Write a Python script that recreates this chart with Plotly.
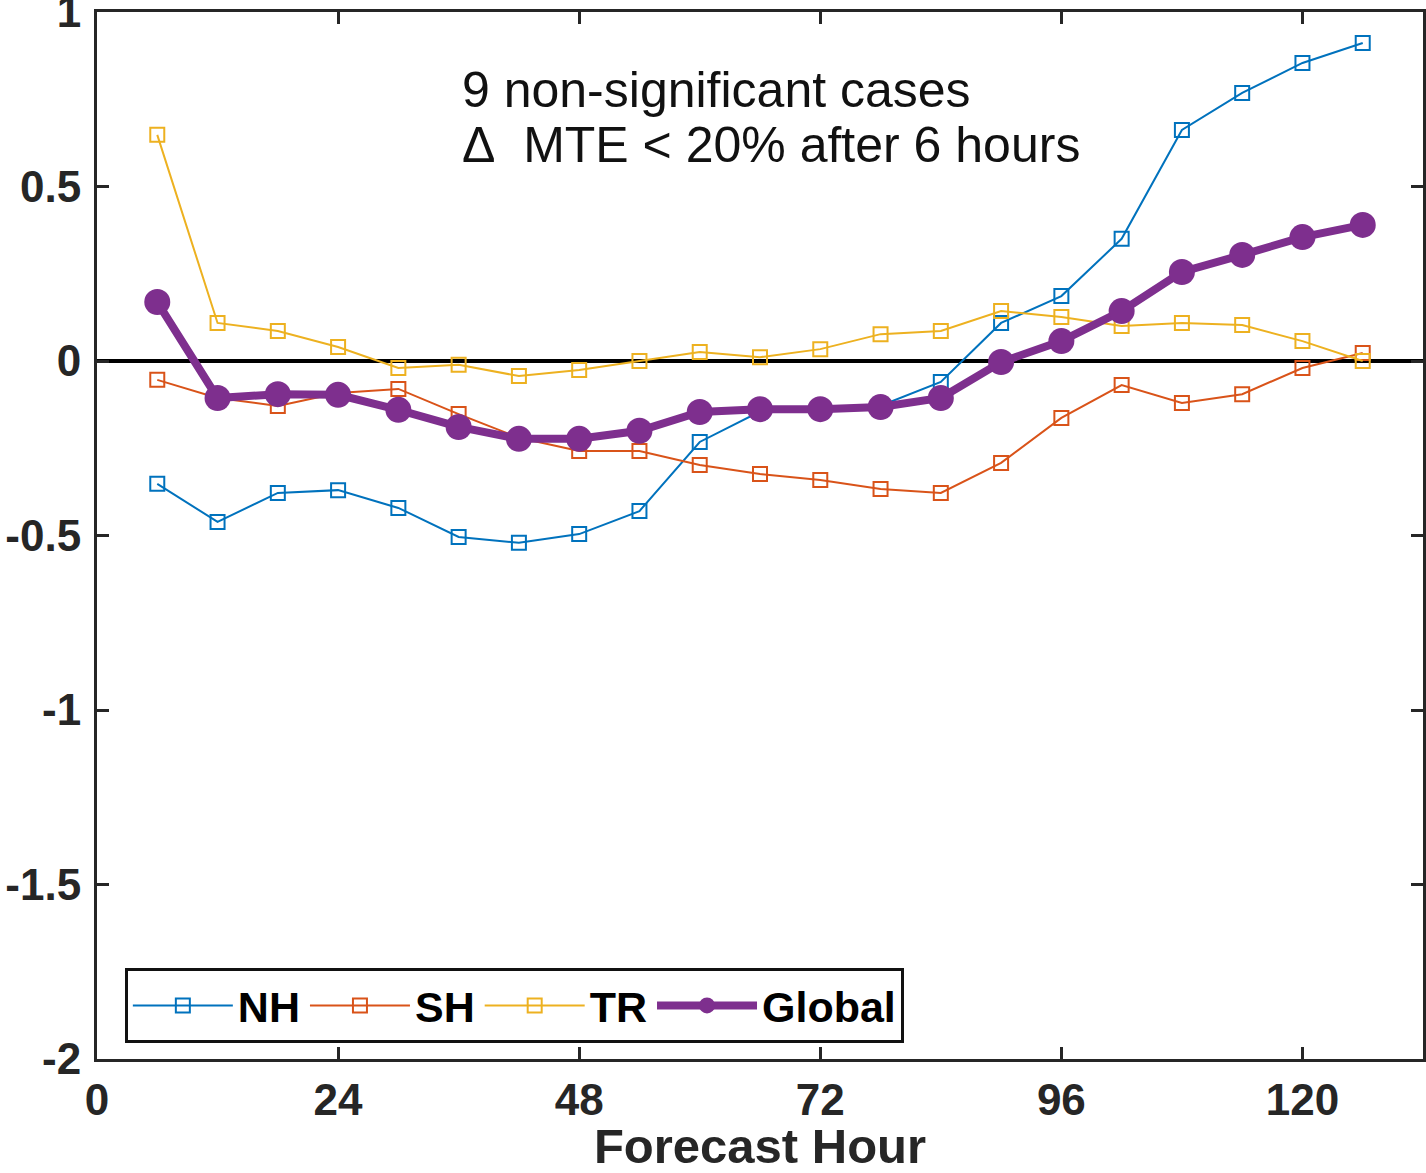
import plotly.graph_objects as go

# Forecast hours (every 6 h out to 126 h)
hours = [6, 12, 18, 24, 30, 36, 42, 48, 54, 60, 66, 72, 78, 84, 90, 96, 102, 108, 114, 120, 126]

# Relative change per region
nh = [-0.352, -0.461, -0.378, -0.370, -0.421, -0.504, -0.521, -0.496, -0.430, -0.232,
      -0.145, -0.138, -0.128, -0.060, 0.109, 0.186, 0.350, 0.662, 0.768, 0.854, 0.911]
sh = [-0.054, -0.106, -0.129, -0.092, -0.080, -0.152, -0.220, -0.258, -0.258, -0.298,
      -0.324, -0.341, -0.367, -0.378, -0.292, -0.163, -0.069, -0.120, -0.095, -0.020, 0.023]
tr = [0.648, 0.109, 0.086, 0.040, -0.020, -0.011, -0.043, -0.026, 0.000, 0.026,
      0.011, 0.034, 0.077, 0.086, 0.143, 0.126, 0.100, 0.109, 0.103, 0.057, 0.000]
glob = [0.169, -0.106, -0.095, -0.097, -0.140, -0.189, -0.223, -0.223, -0.200, -0.146,
        -0.138, -0.138, -0.132, -0.106, -0.003, 0.057, 0.143, 0.255, 0.304, 0.355, 0.390]

x_ticks = [0, 24, 48, 72, 96, 120]
y_ticks = [1, 0.5, 0, -0.5, -1, -1.5, -2]
y_tick_text = ["1", "0.5", "0", "-0.5", "-1", "-1.5", "-2"]

note_lines = ["9 non-significant cases", "\u0394\u00a0\u00a0MTE < 20% after 6 hours"]

FONT = "Liberation Sans, Arial, Helvetica, sans-serif"
AXIS = "#262626"

fig = go.Figure()

regions = [("NH", nh, "#0072BD"), ("SH", sh, "#D95319"), ("TR", tr, "#EDB120")]
for name, vals, col in regions:
    fig.add_trace(go.Scatter(
        x=hours, y=vals, name=name, mode="lines+markers",
        line=dict(color=col, width=2),
        marker=dict(symbol="square-open", size=14, color=col, line=dict(width=2, color=col)),
    ))

fig.add_trace(go.Scatter(
    x=hours, y=glob, name="Global", mode="lines+markers",
    line=dict(color="#7E2F8E", width=8),
    marker=dict(symbol="circle", size=26, color="#7E2F8E"),
))

# Two-line note, placed line by line for tight spacing
for text, ypos in zip(note_lines, [0.9255, 0.873]):
    fig.add_annotation(
        text=text, xref="paper", yref="paper", x=0.274, y=ypos,
        xanchor="left", yanchor="middle", showarrow=False,
        font=dict(family=FONT, size=50, color="#111111"),
    )

axis_common = dict(
    showline=True, linecolor=AXIS, linewidth=3, mirror="ticks",
    ticks="inside", ticklen=12, tickwidth=3, tickcolor=AXIS,
    showgrid=False, ticklabeloverflow="allow", automargin=False,
    tickfont=dict(family=FONT, size=44, color="#262626", weight="bold"),
)

fig.update_layout(
    width=1426, height=1173,
    margin=dict(l=97, r=3, t=12, b=114),
    paper_bgcolor="white", plot_bgcolor="white",
    showlegend=True,
    legend=dict(
        orientation="h", x=0.021, y=0.0869, xanchor="left", yanchor="top",
        bordercolor="#111111", borderwidth=3, bgcolor="white",
        font=dict(family=FONT, size=43, color="black", weight="bold"),
        itemwidth=100, tracegroupgap=0,
    ),
    xaxis=dict(
        range=[0, 132], tickvals=x_ticks, ticktext=[str(v) for v in x_ticks],
        zeroline=False,
        title=dict(text="Forecast Hour", standoff=4,
                   font=dict(family=FONT, size=49, color="#262626", weight="bold")),
        **axis_common,
    ),
    yaxis=dict(
        range=[-2, 1], tickvals=y_ticks, ticktext=y_tick_text,
        zeroline=True, zerolinecolor="black", zerolinewidth=4,
        ticklabelstandoff=4,
        **axis_common,
    ),
)

fig.write_html("out.html")
